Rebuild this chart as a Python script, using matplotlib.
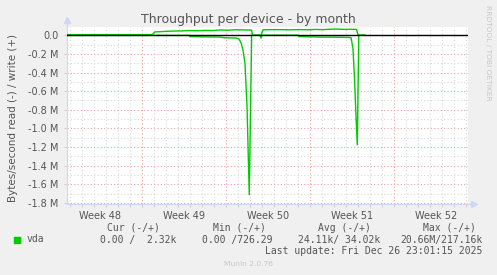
import matplotlib
matplotlib.use("Agg")
import matplotlib.pyplot as plt
from matplotlib.patches import Rectangle

# Tageswerte (x = Tage ab linkem Rand, y = MB/s)
write_days = [0.0, 7.08, 7.33, 7.75, 8.4, 9.0, 9.6, 10.25, 10.9, 11.5, 12.1,
              12.75, 13.4, 14.0, 14.6, 15.08, 15.38, 15.46, 16.17, 16.33,
              17.33, 18.58, 19.42, 20.0, 20.67, 21.3, 21.92, 22.5, 23.17,
              23.7, 24.13, 24.25, 24.83]
write_vals = [0.006, 0.006, 0.035, 0.038, 0.042, 0.045, 0.046, 0.05, 0.048,
              0.052, 0.05, 0.056, 0.054, 0.058, 0.057, 0.056, 0.055, 0.0,
              0.0, 0.058, 0.06, 0.058, 0.06, 0.058, 0.062, 0.06, 0.064,
              0.066, 0.062, 0.064, 0.062, 0.0, 0.0]

read_days = [0.0, 10.17, 10.25, 11.5, 12.75, 13.17, 14.08, 14.33, 14.5, 14.67,
             14.83, 15.0, 15.19, 15.39, 16.08, 16.17, 16.25, 19.25, 19.33,
             21.08, 22.75, 23.67, 23.83, 23.96, 24.08, 24.19, 24.32, 24.83]
read_vals = [-0.002, -0.002, -0.015, -0.018, -0.02, -0.028, -0.03, -0.04,
             -0.08, -0.16, -0.3, -0.75, -1.71, 0.0, 0.0, -0.03, 0.0, 0.0,
             -0.015, -0.02, -0.022, -0.025, -0.14, -0.46, -0.85, -1.175,
             0.0, 0.0]

week_labels = ["Week 48", "Week 49", "Week 50", "Week 51", "Week 52"]
week_label_pos = [2.75, 9.75, 16.75, 23.75, 30.75]
week_starts = [6.25, 13.25, 20.25, 27.25]

y_ticks = [0.0, -0.2, -0.4, -0.6, -0.8, -1.0, -1.2, -1.4, -1.6, -1.8]
y_labels = ["0.0", "-0.2 M", "-0.4 M", "-0.6 M", "-0.8 M", "-1.0 M",
            "-1.2 M", "-1.4 M", "-1.6 M", "-1.8 M"]

W, H = 497, 275
GREEN = "#00CC00"
TXT = "#555555"
AXIS = "#CFD6F8"

fig = plt.figure(figsize=(W / 100, H / 100), dpi=100, facecolor="#F0F0F0")
ax = fig.add_axes([67 / W, 1 - 204 / H, 401 / W, 177 / H])
ax.set_facecolor("white")
ax.set_xlim(0, 33.42)
ax.set_ylim(-1.81, 0.088)

# Gitter
for d in [0.25 + k for k in range(34)]:
    if d in week_starts or d > 33.4:
        continue
    ax.axvline(d, color="#D8D8D8", lw=0.8, dashes=(1, 2), zorder=1)
for d in week_starts:
    ax.axvline(d, color="#F0A0A0", lw=0.8, dashes=(1, 2), zorder=1)
for k in range(19):
    v = -0.1 * k
    if k % 2 == 0:
        ax.axhline(v, color="#F0A0A0", lw=0.8, dashes=(1, 2), zorder=1)
    else:
        ax.axhline(v, color="#D8D8D8", lw=0.8, dashes=(1, 2), zorder=1)

ax.plot(write_days, write_vals, color=GREEN, lw=1.0, zorder=3)
ax.plot(read_days, read_vals, color=GREEN, lw=1.0, zorder=3)
ax.axhline(0, color="black", lw=1.0, zorder=4)

# Achsen
for s in ["top", "right"]:
    ax.spines[s].set_visible(False)
for s in ["left", "bottom"]:
    ax.spines[s].set_color(AXIS)
    ax.spines[s].set_linewidth(0.8)
ax.plot([0, 0], [1, 1.03], color=AXIS, lw=0.8, transform=ax.transAxes, clip_on=False)
ax.plot([0], [1.04], marker="^", ms=5, color=AXIS, transform=ax.transAxes, clip_on=False)
ax.plot([1, 1.012], [0, 0], color=AXIS, lw=0.8, transform=ax.transAxes, clip_on=False)
ax.plot([1.015], [0], marker=">", ms=5, color=AXIS, transform=ax.transAxes, clip_on=False)

ax.set_yticks(y_ticks, y_labels)
ax.set_xticks(week_label_pos, week_labels)
ax.set_xticks([0.25 + k for k in range(34) if 0.25 + k < 33.4], minor=True)
ax.tick_params(axis="x", which="major", length=0, pad=5, labelsize=7, labelcolor=TXT)
ax.tick_params(axis="x", which="minor", length=2, color="#D0D0D0", width=0.8)
ax.tick_params(axis="y", length=2, color="#D0D0D0", width=0.8, pad=4,
               labelsize=7, labelcolor=TXT)

fig.text(248.5 / W, 1 - 19 / H, "Throughput per device - by month",
         ha="center", va="center", fontsize=9, color=TXT)
fig.text(13 / W, 1 - 118 / H, "Bytes/second read (-) / write (+)",
         ha="center", va="center", rotation=90, fontsize=7.5, color=TXT)
fig.text(488 / W, 1 - 53 / H, "RRDTOOL / TOBI OETIKER", ha="center",
         va="center", rotation=270, fontsize=5.4, color="#C8C8C8")

# Legende
mono = dict(family="DejaVu Sans Mono", fontsize=7, color=TXT, va="center")
for x, s in [(107, "Cur (-/+)"), (212.7, "Min (-/+)"),
             (317.7, "Avg (-/+)"), (422.7, "Max (-/+)")]:
    fig.text(x / W, 1 - 228 / H, s, **mono)
for x, s in [(26.7, "vda"), (100, "0.00 /  2.32k"), (202.3, "0.00 /726.29"),
             (298.3, "24.11k/ 34.02k"), (400.7, "20.66M/217.16k")]:
    fig.text(x / W, 1 - 239.5 / H, s, **mono)
fig.text(482.5 / W, 1 - 251.5 / H, "Last update: Fri Dec 26 23:01:15 2025",
         ha="right", **mono)
fig.patches.append(Rectangle((14 / W, 1 - 243 / H), 6 / W, 6 / H,
                             transform=fig.transFigure, color=GREEN))
fig.text(248 / W, 1 - 264.5 / H, "Munin 2.0.76", ha="center", va="center",
         fontsize=5.4, color="#C8C8C8")

fig.savefig("out.png", dpi=100, facecolor=fig.get_facecolor())
